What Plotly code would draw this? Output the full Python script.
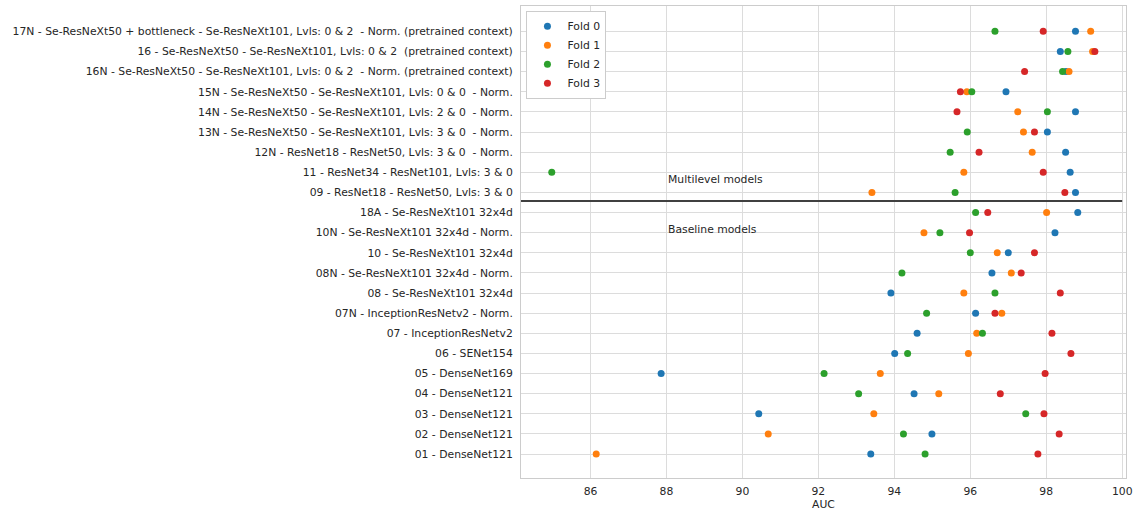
import plotly.graph_objects as go

# Categories from bottom (index 0) to top
models = [
    "01 - DenseNet121",
    "02 - DenseNet121",
    "03 - DenseNet121",
    "04 - DenseNet121",
    "05 - DenseNet169",
    "06 - SENet154",
    "07 - InceptionResNetv2",
    "07N - InceptionResNetv2 - Norm.",
    "08 - Se-ResNeXt101 32x4d",
    "08N - Se-ResNeXt101 32x4d - Norm.",
    "10 - Se-ResNeXt101 32x4d",
    "10N - Se-ResNeXt101 32x4d - Norm.",
    "18A - Se-ResNeXt101 32x4d",
    "09 - ResNet18 - ResNet50, Lvls: 3 & 0",
    "11 - ResNet34 - ResNet101, Lvls: 3 & 0",
    "12N - ResNet18 - ResNet50, Lvls: 3 & 0  - Norm.",
    "13N - Se-ResNeXt50 - Se-ResNeXt101, Lvls: 3 & 0  - Norm.",
    "14N - Se-ResNeXt50 - Se-ResNeXt101, Lvls: 2 & 0  - Norm.",
    "15N - Se-ResNeXt50 - Se-ResNeXt101, Lvls: 0 & 0  - Norm.",
    "16N - Se-ResNeXt50 - Se-ResNeXt101, Lvls: 0 & 2  - Norm. (pretrained context)",
    "16 - Se-ResNeXt50 - Se-ResNeXt101, Lvls: 0 & 2  (pretrained context)",
    "17N - Se-ResNeXt50 + bottleneck - Se-ResNeXt101, Lvls: 0 & 2  - Norm. (pretrained context)",
]

fold0 = [93.38, 94.99, 90.43, 94.52, 87.86, 94.01, 94.60, 96.14, 93.91, 96.57, 97.00, 98.23, 98.83,
         98.77, 98.63, 98.51, 98.03, 98.77, 96.94, 98.52, 98.37, 98.77]
fold1 = [86.15, 90.68, 93.46, 95.17, 93.63, 95.95, 96.17, 96.83, 95.83, 97.08, 96.71, 94.78, 98.01,
         93.41, 95.83, 97.63, 97.40, 97.25, 95.91, 98.60, 99.22, 99.17]
fold2 = [94.81, 94.24, 97.46, 93.06, 92.15, 94.35, 96.32, 94.85, 96.65, 94.20, 96.00, 95.20, 96.14,
         95.60, 84.98, 95.47, 95.92, 98.03, 96.04, 98.43, 98.57, 96.65]
fold3 = [97.78, 98.34, 97.94, 96.79, 97.97, 98.65, 98.15, 96.65, 98.37, 97.34, 97.69, 95.98, 96.46,
         98.49, 97.92, 96.23, 97.69, 95.65, 95.74, 97.43, 99.28, 97.92]

folds = [("Fold 0", fold0, "#1f77b4"), ("Fold 1", fold1, "#ff7f0e"),
         ("Fold 2", fold2, "#2ca02c"), ("Fold 3", fold3, "#d62728")]

FONT = "DejaVu Sans"
FS = 10.8
TXT = "#262626"
GRID = "#dcdcdc"

fig = go.Figure()
for name, vals, col in folds:
    fig.add_trace(go.Scatter(
        x=vals, y=models, mode="markers", name=name,
        marker=dict(color=col, size=7, line=dict(width=0)),
    ))

# separator between multilevel and baseline models
fig.add_shape(type="line", xref="x", yref="y", x0=84.17, x1=100, y0=12.57, y1=12.57,
              line=dict(color="#404040", width=2))
fig.add_annotation(x=88, y=13.65, text="Multilevel models", showarrow=False,
                   xanchor="left", yanchor="middle", font=dict(family=FONT, size=FS, color=TXT))
fig.add_annotation(x=88, y=11.18, text="Baseline models", showarrow=False,
                   xanchor="left", yanchor="middle", font=dict(family=FONT, size=FS, color=TXT))

fig.update_layout(
    width=1140, height=513,
    margin=dict(l=521, r=14, t=6, b=35),
    paper_bgcolor="white", plot_bgcolor="white",
    font=dict(family=FONT, size=FS, color=TXT),
    showlegend=True,
    legend=dict(x=0.009, y=0.99, xanchor="left", yanchor="top",
                bgcolor="white", bordercolor="#cccccc", borderwidth=1,
                font=dict(family=FONT, size=FS, color=TXT),
                tracegroupgap=0, itemwidth=30),
    xaxis=dict(range=[84.17, 100.10], tickvals=[86, 88, 90, 92, 94, 96, 98, 100],
               showgrid=True, gridcolor=GRID, gridwidth=1, zeroline=False,
               showline=True, linecolor="#cccccc", mirror=True, automargin=False,
               ticks="", ticklabelstandoff=3,
               title=dict(text="AUC", font=dict(family=FONT, size=FS, color=TXT), standoff=0),
               tickfont=dict(family=FONT, size=FS, color=TXT)),
    yaxis=dict(type="category", categoryorder="array", categoryarray=models,
               range=[-1.19, 22.26], automargin=False,
               showgrid=True, gridcolor=GRID, gridwidth=1, zeroline=False,
               showline=True, linecolor="#cccccc", mirror=True,
               ticks="", ticklabelstandoff=5,
               tickfont=dict(family=FONT, size=FS, color=TXT)),
)

fig.write_html("out.html", config={"displayModeBar": False},
               post_script="document.body.style.margin='0';document.body.style.padding='0';")
